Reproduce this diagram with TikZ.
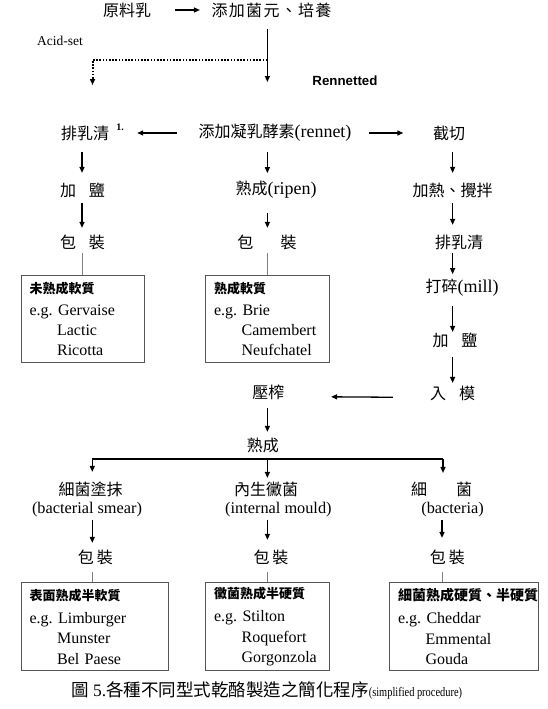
\documentclass[tikz,border=0pt]{standalone}
\usepackage{fontspec}
\usepackage{tikz}
\usetikzlibrary{arrows.meta}
\setmainfont{Liberation Serif}
\newfontfamily\cjk{Noto Sans CJK TC}
\newfontfamily\cjkwide[LetterSpace=8]{Noto Sans CJK TC}
\newfontfamily\arialb{Liberation Sans}
\newfontfamily\timesnarrow[FakeStretch=0.8]{Liberation Serif}
\definecolor{boxgray}{HTML}{555555}
\definecolor{linegray}{HTML}{808080}
\newcommand{\hd}[1]{{\cjk\bfseries\fontsize{13}{20}\selectfont #1}}
\newcommand{\ind}{\hspace*{27.5pt}}
\newcommand{\lat}[1]{{\rmfamily\fontsize{18}{19}\selectfont #1}}

\tikzset{
  cn/.style={inner sep=0pt, font=\fontsize{16}{19}\selectfont\cjk},
  en/.style={inner sep=0pt, font=\fontsize{16.3}{18}\selectfont},
  flow/.style 2 args={->, line width=1.3pt, shorten <=#1, shorten >=#2},
  tie/.style={draw=linegray, line width=1pt, shorten <=#1},
  acid/.style={->, line width=2pt, dash pattern=on 1.6pt off 1.6pt},
  kind/.style={draw=boxgray, line width=1.2pt, anchor=north west, inner xsep=8.5pt,
    inner ysep=0pt, align=left, minimum height=87pt, font=\fontsize{16}{20.3}\selectfont}
}

\begin{document}
\frenchspacing
\begin{tikzpicture}[x=1pt, y=-1pt, >={Triangle[length=6pt,width=5pt]}]
    \useasboundingbox (0,0) rectangle (548,709);
    \coordinate (colA) at (82,0);
    \coordinate (colB) at (267.4,0);
    \coordinate (colC) at (452.6,0);
    \coordinate (colD) at (92.3,0);
    \coordinate (colF) at (442,0);

    % start
    \node[cn] (raw) at (127,10) {原料乳};
    \node[cn, font=\fontsize{16}{19}\selectfont\cjkwide] (culture) at (271.5,10) {添加菌元、培養};
    \node[en, font=\fontsize{13.5}{15}\selectfont] (acid) at (60,41) {Acid-set};
    \node[inner sep=0pt, font=\fontsize{13.3}{16}\selectfont\arialb\bfseries] (rennetted) at (345,81) {Rennetted};
    \coordinate (acidfork) at (267.4,60);
    \coordinate (acidend) at (92.5,85);
    \coordinate (rennetend) at (267.4,82);

    % three ways after rennet
    \node[cn] (drain1) at (85,133) {排乳清};
    \node[inner sep=0pt, font=\fontsize{10}{12}\selectfont\bfseries] (note1) at (120,127) {1.};
    \node[cn] (rennet) at (275,133) {添加凝乳酵素\lat{(rennet)}};
    \node[cn] (cut) at (449,133) {截切};

    \node[cn] (saltA) at (82.5,190) {加\hspace{13pt}鹽};
    \node[cn] (ripen) at (276,190) {熟成\lat{(ripen)}};
    \node[cn] (heat) at (452.6,190) {加熱、攪拌};

    \node[cn] (packA) at (82.5,242) {包\hspace{13pt}裝};
    \node[cn] (packB) at (267,242) {包\hspace{27.5pt}裝};
    \node[cn] (drain2) at (459,242) {排乳清};

    \node[kind, text width=106pt] (boxA) at (20.5,275)
        {\hd{未熟成軟質}\\[1pt] e.g. Gervaise\\ \ind Lactic\\ \ind Ricotta};
    \node[kind, text width=107pt] (boxB) at (205,275)
        {\hd{熟成軟質}\\[1pt] e.g. Brie\\ \ind Camembert\\ \ind Neufchatel};

    \node[cn] (mill) at (462,288) {打碎\lat{(mill)}};
    \node[cn] (saltC) at (455,340) {加\hspace{13pt}鹽};
    \node[cn] (mould) at (452.6,393) {入\hspace{13pt}模};
    \node[cn] (press) at (268.4,392) {壓榨};
    \node[cn] (ripe2) at (262.8,445) {熟成};
    \coordinate (barL) at (92.3,459);
    \coordinate (barM) at (267.4,459);
    \coordinate (barR) at (443,459);

    % ripening kinds
    \node[cn] (smear) at (90.7,489) {細菌塗抹};
    \node[en] (smearen) at (87,510) {(bacterial smear)};
    \node[cn] (inner) at (266,489) {內生黴菌};
    \node[en] (inneren) at (278.4,510) {(internal mould)};
    \node[cn] (bact) at (441.6,489) {細\hspace{29pt}菌};
    \node[en] (bacten) at (452.6,510) {(bacteria)};

    \node[cn] (packD) at (95.4,557) {包\hspace{3pt}裝};
    \node[cn] (packE) at (271,557) {包\hspace{3pt}裝};
    \node[cn] (packF) at (447.4,557) {包\hspace{3pt}裝};

    \node[kind, text width=130.5pt, minimum height=88pt] (boxD) at (20.5,582)
        {\hd{表面熟成半軟質}\\[3pt] e.g. Limburger\\ \ind Munster\\ \ind Bel Paese};
    \node[kind, text width=106.5pt, minimum height=88pt] (boxE) at (205,582)
        {\hd{黴菌熟成半硬質}\\[3pt] e.g. Stilton\\ \ind Roquefort\\ \ind Gorgonzola};
    \node[kind, text width=132pt, minimum height=88pt] (boxF) at (389,582)
        {{\cjk\bfseries\fontsize{14}{20}\selectfont 細菌熟成硬質、半硬質}\\[3pt] e.g. Cheddar\\ \ind Emmental\\ \ind Gouda};

    \node[inner sep=0pt, font=\fontsize{17.5}{20}\selectfont] (caption) at (266.7,690)
        {{\cjk 圖} 5.{\cjk 各種不同型式乾酪製造之簡化程序}{\timesnarrow\fontsize{13}{14}\selectfont(simplified procedure)}};

    % connectors
    \draw[flow={24pt}{11.5pt}] (raw.east) -- (culture.west);
    \draw[flow={11.5pt}{0pt}] (culture.south -| colB) -- (rennetend);
    \draw[acid] (acidfork) -| (acidend);
    \draw[flow={21.6pt}{28pt}] (rennet.west) -- (drain1.east);
    \draw[flow={17.4pt}{29.5pt}] (rennet.east) -- (cut.west);
    \draw[flow={11.5pt}{9.5pt}] (drain1.south -| colA) -- (saltA.north -| colA);
    \draw[flow={10pt}{8pt}] (rennet.south -| colB) -- (ripen.north -| colB);
    \draw[flow={11.5pt}{9.5pt}] (cut.south -| colC) -- (heat.north -| colC);
    \draw[flow={5.5pt}{6.5pt}] (saltA.south -| colA) -- (packA.north -| colA);
    \draw[flow={14pt}{6.5pt}] (ripen.south -| colB) -- (packB.north -| colB);
    \draw[flow={5.5pt}{9.5pt}] (heat.south -| colC) -- (drain2.north -| colC);
    \draw[tie=3.5pt] (packA.south -| colA) -- (boxA.north -| colA);
    \draw[tie=3.5pt] (packB.south -| colB) -- (boxB.north -| colB);
    \draw[flow={3.5pt}{5pt}] (drain2.south -| colC) -- (mill.north -| colC);
    \draw[flow={9pt}{0.5pt}] (mill.south -| colC) -- (saltC.north -| colC);
    \draw[flow={9.5pt}{2.5pt}] (saltC.south -| colC) -- (mould.north -| colC);
    \draw[flow={37pt}{46.5pt}] ([yshift=-4.5pt]mould.west) -- ([yshift=-4.5pt]press.east);
    \draw[flow={8.5pt}{5.5pt}] (press.south -| colB) -- (ripe2.north -| colB);
    \draw[line width=1.3pt] (barL) -- (barR);
    \draw[flow={0pt}{9.5pt}] (barL) -- (barL |- smear.north);
    \draw[flow={0pt}{3.5pt}] (barM) -- (barM |- inner.north);
    \draw[flow={0pt}{8.5pt}] (barR) -- (barR |- bact.north);
    \draw[flow={2pt}{6.5pt}] (smearen.south -| colD) -- (packD.north -| colD);
    \draw[flow={2pt}{9.5pt}] (inneren.south -| colB) -- (packE.north -| colB);
    \draw[flow={2pt}{11.5pt}] (bacten.south -| colF) -- (packF.north -| colF);
    \draw[tie=7.5pt] (packD.south -| colD) -- (boxD.north -| colD);
    \draw[tie=7.5pt] (packE.south -| colB) -- (boxE.north -| colB);
    \draw[tie=7.5pt] (packF.south -| colF) -- (boxF.north -| colF);
\end{tikzpicture}
\end{document}
